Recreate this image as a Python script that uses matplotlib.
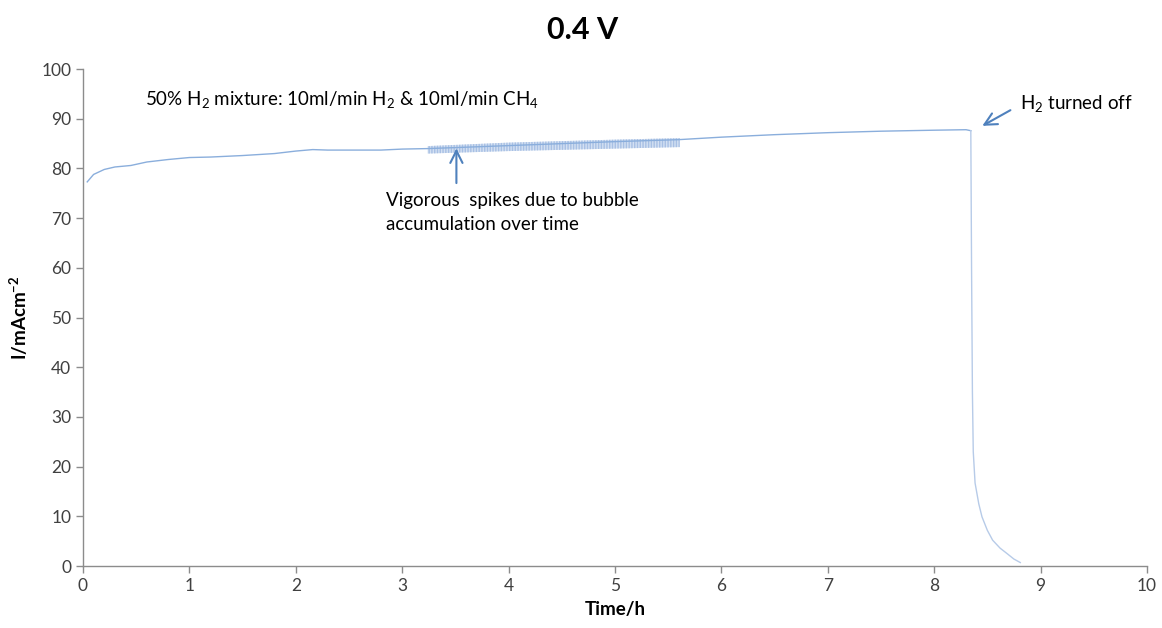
import matplotlib
matplotlib.use("Agg")
import matplotlib.pyplot as plt

# ---- data ----
time_h = [0.04, 0.1, 0.2, 0.3, 0.45, 0.6, 0.8, 1.0, 1.2, 1.5, 1.8, 2.0, 2.16, 2.3,
          2.5, 2.8, 3.0, 3.24, 3.5, 4.0, 4.5, 5.0, 5.6, 6.0, 6.5, 7.0, 7.5, 8.0,
          8.3, 8.345, 8.352, 8.36, 8.368, 8.385, 8.42, 8.45, 8.5, 8.55, 8.62,
          8.68, 8.75, 8.81]
current = [77.3, 78.8, 79.8, 80.3, 80.6, 81.3, 81.8, 82.2, 82.3, 82.6, 83.0, 83.5,
           83.8, 83.7, 83.7, 83.7, 83.9, 84.0, 84.2, 84.6, 85.0, 85.4, 85.8, 86.3,
           86.8, 87.2, 87.5, 87.7, 87.8, 87.6, 60.0, 35.0, 23.0, 16.7, 12.5, 9.9,
           7.2, 5.2, 3.6, 2.6, 1.4, 0.7]

spike_time = [3.24, 4.0, 5.0, 5.61]
spike_low = [83.0, 83.5, 84.0, 84.3]
spike_high = [84.5, 85.2, 85.8, 86.1]

x_ticks = list(range(0, 11))
y_ticks = list(range(0, 101, 10))

line_color = "#8aaedc"
drop_color = "#b7cbe8"
text_color = "#000000"
tick_color = "#404040"
axis_color = "#8c8c8c"

plt.rcParams['font.family'] = ['Lato', 'DejaVu Sans']
plt.rcParams['mathtext.fontset'] = 'custom'
plt.rcParams['mathtext.rm'] = 'Lato'
plt.rcParams['mathtext.it'] = 'Lato:italic'
plt.rcParams['mathtext.bf'] = 'Lato:bold'

fig = plt.figure(figsize=(11.62, 6.28), dpi=100)
ax = fig.add_axes([0.0714, 0.0987, 0.9156, 0.7913])

split = 29  # index where the current starts to fall after H2 is turned off
ax.plot(time_h[:split + 1], current[:split + 1], color=line_color, lw=1.0)
ax.plot(time_h[split:], current[split:], color=drop_color, lw=1.0)
ax.fill_between(spike_time, spike_low, spike_high, facecolor="#d3e0f2",
                edgecolor="#a8c0e4", hatch="||||||", linewidth=0)

ax.set_xlim(0, 10)
ax.set_ylim(0, 100)
ax.set_xticks(x_ticks)
ax.set_yticks(y_ticks)
ax.tick_params(axis='both', direction='out', length=5, width=1, color=axis_color,
               labelcolor=tick_color, labelsize=12.5)
for s in ['top', 'right']:
    ax.spines[s].set_visible(False)
for s in ['left', 'bottom']:
    ax.spines[s].set_color(axis_color)
    ax.spines[s].set_linewidth(1)

ax.set_xlabel("Time/h", fontsize=13.5, fontweight='bold', labelpad=5)
ax.set_ylabel("I/mAcm$^{\\mathbf{-2}}$", fontsize=13.5, fontweight='bold', labelpad=8)

fig.text(0.501, 0.952, "0.4 V", ha='center', va='center', fontsize=22, fontweight='bold')

ax.text(0.58, 93.8, "50% H$_2$ mixture: 10ml/min H$_2$ & 10ml/min CH$_4$",
        fontsize=13.5, va='center', ha='left', color=text_color)
ax.text(2.85, 75.2, "Vigorous  spikes due to bubble\naccumulation over time",
        fontsize=13.5, va='top', ha='left', color=text_color, linespacing=1.45)
ax.annotate("", xy=(3.51, 84.6), xytext=(3.51, 76.5),
            arrowprops=dict(arrowstyle="->", color="#4f81bd", lw=1.5,
                            mutation_scale=22))
ax.text(8.81, 93.0, "H$_2$ turned off", fontsize=13.5, va='center', ha='left',
        color=text_color)
ax.annotate("", xy=(8.43, 88.3), xytext=(8.74, 92.0),
            arrowprops=dict(arrowstyle="->", color="#4f81bd", lw=1.5,
                            mutation_scale=22))

fig.savefig("out.png", dpi=100)
